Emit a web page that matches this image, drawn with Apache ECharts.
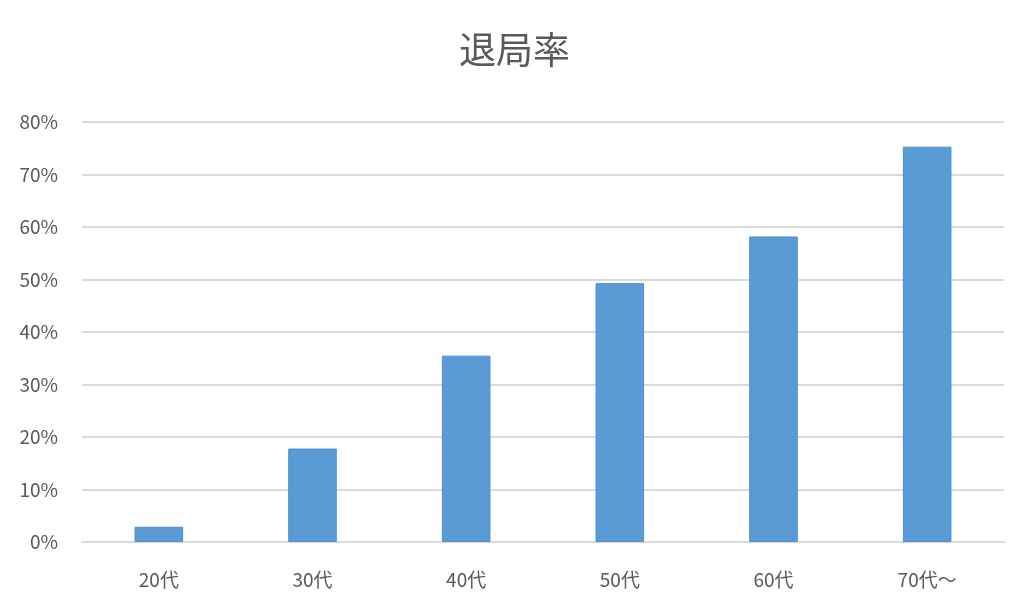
<!DOCTYPE html>
<html lang="ja">
<head>
    <meta charset="UTF-8">
    <title>退局率</title>
    <script src="https://cdn.jsdelivr.net/npm/echarts@6.0.0/dist/echarts.min.js"></script>
    <style>
        html, body { margin: 0; padding: 0; background: #fff; }
    </style>
</head>
<body>
    <div id="main" style="width: 1029px;height:612px;"></div>
    <script type="text/javascript">
        // data
        const categories = ['20代', '30代', '40代', '50代', '60代', '70代～'];
        const rates = [2.9, 17.8, 35.5, 49.3, 58.2, 75.3];
        const yMax = 80;
        const yStep = 10;

        const font = '"Noto Sans CJK JP", "Noto Sans", sans-serif';

        let options = {
            title: {
                text: '退局率',
                left: 'center',
                top: 26,
                textStyle: { fontFamily: font, fontSize: 37, fontWeight: 'normal', color: '#595959' }
            },
            grid: { left: 82, right: 25, top: 122, bottom: 70 },
            xAxis: {
                type: 'category',
                data: categories,
                axisLine: { lineStyle: { color: '#d9d9d9', width: 2 } },
                axisTick: { show: false },
                axisLabel: { margin: 28, fontFamily: font, fontSize: 19, color: '#595959' }
            },
            yAxis: {
                type: 'value',
                min: 0,
                max: yMax,
                interval: yStep,
                axisLine: { show: false },
                axisTick: { show: false },
                splitLine: { lineStyle: { color: '#d9d9d9', width: 2 } },
                axisLabel: { margin: 24, fontFamily: font, fontSize: 19, color: '#595959', formatter: '{value}%' }
            },
            series: [{
                name: '退局率',
                type: 'bar',
                data: rates,
                barWidth: '31.6%',
                itemStyle: { color: '#5b9bd5', borderColor: '#4a8fd0', borderWidth: 1 }
            }]
        };

        let myChart = echarts.init(document.getElementById('main'));
        myChart.setOption(options);
    </script>
</body>
</html>
